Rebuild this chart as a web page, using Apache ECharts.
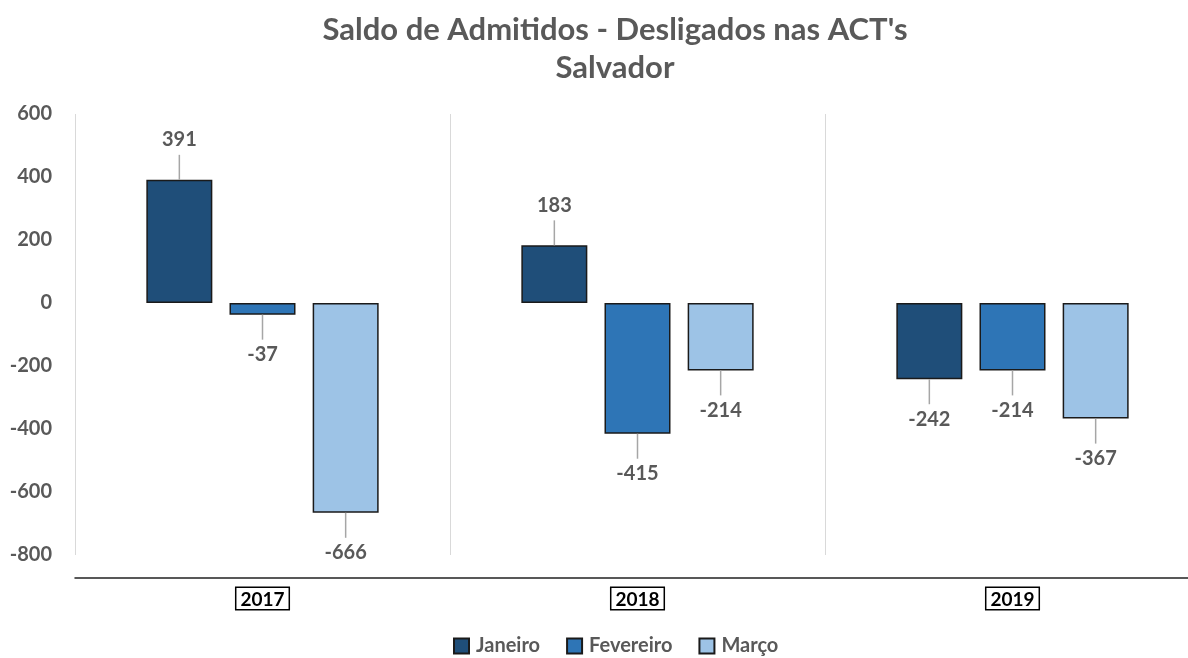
<!DOCTYPE html>
<html lang="pt">
<head>
    <meta charset="UTF-8">
    <title>Saldo de Admitidos - Desligados</title>
    <script src="https://cdn.jsdelivr.net/npm/echarts@6/dist/echarts.min.js"></script>
</head>
<body style="margin:0">
<div id="chart" style="width:1188px;height:658px;"></div>
<script>
    // dados
    var years = ['2017', '2018', '2019'];
    var months = ['Janeiro', 'Fevereiro', 'Março'];
    var janeiro = [391, 183, -242];
    var fevereiro = [-37, -415, -214];
    var marco = [-666, -214, -367];
    var yTicks = [-800, -600, -400, -200, 0, 200, 400, 600];

    var colors = ['#1F4E79', '#2E75B6', '#9DC3E6'];
    var values = [janeiro, fevereiro, marco];
    var fontFam = 'Lato, "Open Sans", sans-serif';

    var myChart = echarts.init(document.getElementById('chart'));

    // rótulos com linha guia
    function leaderSeries(idx) {
        return {
            type: 'custom',
            name: months[idx] + '_lbl',
            silent: true,
            z: 5,
            data: values[idx].map(function (v, i) { return [i, v]; }),
            renderItem: function (params, api) {
                var v = api.value(1);
                var p = api.coord([api.value(0), v]);
                var lay = api.barLayout({ barWidth: 66, barGap: '26%', count: 3 });
                var x = p[0] + lay[idx].offsetCenter;
                var dir = v >= 0 ? -1 : 1;
                return {
                    type: 'group',
                    children: [{
                        type: 'line',
                        shape: { x1: x, y1: p[1], x2: x, y2: p[1] + dir * 25 },
                        style: { stroke: '#a6a6a6', lineWidth: 1.5 }
                    }, {
                        type: 'text',
                        style: {
                            text: String(v),
                            x: x, y: p[1] + dir * 40,
                            align: 'center', verticalAlign: 'middle',
                            fontFamily: fontFam, fontWeight: 'bold', fontSize: 20,
                            fill: '#595959'
                        }
                    }]
                };
            }
        };
    }

    var series = [];
    for (var s = 0; s < 3; s++) {
        series.push({
            name: months[s],
            type: 'bar',
            barWidth: 66,
            barGap: '26%',
            data: values[s],
            itemStyle: { color: colors[s], borderColor: '#1a1a1a', borderWidth: 1.5 }
        });
    }
    for (var k = 0; k < 3; k++) {
        series.push(leaderSeries(k));
    }

    var option = {
        animation: false,
        title: {
            text: "Saldo de Admitidos - Desligados nas ACT's\nSalvador",
            left: 610,
            textAlign: 'center',
            top: 6,
            textStyle: {
                fontFamily: fontFam, fontWeight: 'bold', fontSize: 31,
                color: '#595959', lineHeight: 38
            }
        },
        legend: {
            data: months,
            top: 636,
            left: 453,
            padding: 0,
            itemWidth: 15,
            itemHeight: 15,
            itemGap: 26,
            icon: 'rect',
            textStyle: { fontFamily: fontFam, fontWeight: 'bold', fontSize: 20, color: '#595959', padding: [0, 0, 0, 2] }
        },
        grid: { left: 75, top: 114, width: 1125, height: 441, outerBoundsMode: 'none' },
        xAxis: {
            type: 'category',
            data: years,
            offset: 23,
            axisLine: { onZero: false, lineStyle: { color: '#222', width: 1.5 } },
            axisTick: { show: false },
            splitLine: { show: true, lineStyle: { color: '#d9d9d9', width: 1 } },
            axisLabel: {
                margin: 10,
                fontFamily: fontFam, fontWeight: 'bold', fontSize: 19, color: '#000',
                borderColor: '#000', borderWidth: 1.5, backgroundColor: '#fff',
                padding: [2, 4, 0, 4]
            }
        },
        yAxis: {
            type: 'value',
            min: yTicks[0],
            max: yTicks[yTicks.length - 1],
            interval: 200,
            axisLine: { show: false },
            axisTick: { show: false },
            splitLine: { show: false },
            axisLabel: {
                margin: 23,
                fontFamily: fontFam, fontWeight: 'bold', fontSize: 20, color: '#595959'
            }
        },
        series: series
    };

    myChart.setOption(option);
</script>
</body>
</html>
